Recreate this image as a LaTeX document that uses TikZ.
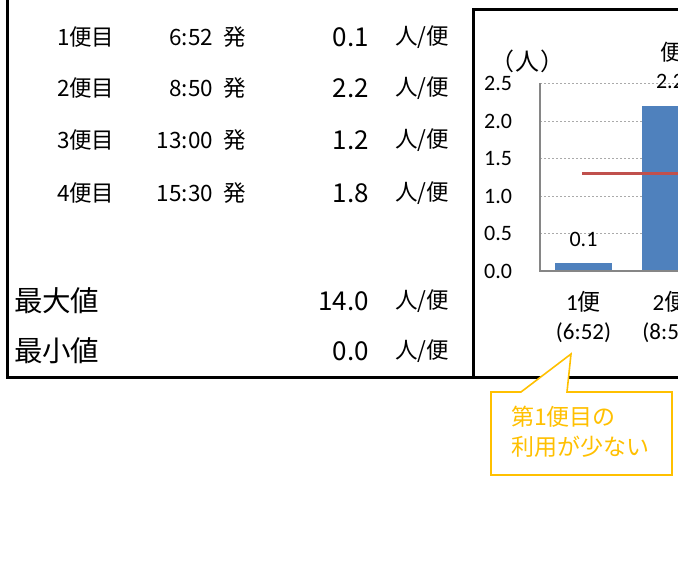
\documentclass[tikz,border=0pt]{standalone}
\usepackage{fontspec}
\newfontfamily\jpfont{Noto Sans CJK JP}
\newfontfamily\jppfont[RawFeature=+palt]{Noto Sans CJK JP}
\newfontfamily\calfont{Carlito}
\definecolor{barblue}{HTML}{4F81BD}
\definecolor{avgred}{HTML}{C0504D}
\definecolor{callout}{HTML}{FFC000}
\definecolor{axisgray}{HTML}{868686}
\tikzset{
  txt/.style={inner sep=0pt, outer sep=0pt},
  small/.style={txt, font=\jpfont\fontsize{22.5}{26}\selectfont},
  val/.style={txt, font=\jpfont\fontsize{26}{30}\selectfont},
  big/.style={txt, font=\jpfont\fontsize{28.5}{32}\selectfont},
  chart/.style={txt, font=\calfont\fontsize{22}{26}\selectfont},
  cat/.style={txt, font=\calfont\fontsize{23}{26}\selectfont},
  frame/.style={line width=3pt, black},
  grid/.style={axisgray!70, line width=0.8pt, dash pattern=on 2pt off 2pt},
  bar/.style={fill=barblue, draw=none},
  note/.style={draw=callout, fill=white, line width=1.6pt, line join=miter},
  notetxt/.style={txt, text=callout, font=\jpfont\fontsize{23}{26}\selectfont, anchor=west},
}
\begin{document}
\begin{tikzpicture}[x=1pt, y=-1pt]
\useasboundingbox (0,0) rectangle (678,585);
\clip (0,0) rectangle (678,585);
% frames
\coordinate (lt) at (7,-2);
\coordinate (lb) at (7,378);
\coordinate (rb) at (682,378);
\coordinate (mt) at (473,10);
\coordinate (mb) at (473,378);
\coordinate (rt) at (682,10);
\draw[frame] (lt) -- (lb) -- (rb);
\draw[frame] (mb) -- (mt) -- (rt);
% table
\foreach \n/\y/\t/\v in {1/37/6:52/0.1, 2/88/8:50/2.2, 3/140/13:00/1.2, 4/193/15:30/1.8}{
  \node[small, anchor=west] (f\n) at (57,\y) {\n 便目};
  \node[small, anchor=east] (t\n) at (213,\y) {\t};
  \node[small, anchor=west] (h\n) at (223,\y) {発};
  \node[val, anchor=east] (v\n) at (369,\y) {\v};
  \node[small, anchor=west] (u\n) at (395,\y) {人/便};
}
\node[big, anchor=west] (maxl) at (14,301) {最大値};
\node[val, anchor=east] (maxv) at (369,301) {14.0};
\node[small, anchor=west] (maxu) at (395,301) {人/便};
\node[big, anchor=west] (minl) at (14,351) {最小値};
\node[val, anchor=east] (minv) at (369,351) {0.0};
\node[small, anchor=west] (minu) at (395,351) {人/便};
% chart
\foreach \i/\y in {1/233.5, 2/196, 3/158.5, 4/121, 5/83.5}{
  \coordinate (ga\i) at (540,\y);
  \coordinate (gb\i) at (700,\y);
  \draw[grid] (ga\i) -- (gb\i);
}
\foreach \i/\v/\y in {0/0.0/271, 1/0.5/233.5, 2/1.0/196, 3/1.5/158.5, 4/2.0/121, 5/2.5/83.5}{
  \node[chart, anchor=east] (tk\i) at (512,\y) {\v};
}
\node[txt, font=\jppfont\fontsize{24}{26}\selectfont, anchor=west] (unit) at (502,61) {（\kern1.5pt 人\kern1.5pt ）};
\fill[bar] (555,271) rectangle (612,263.5);
\fill[bar] (641.5,271) rectangle (698.5,106);
\coordinate (ax0) at (540,83.5);
\coordinate (ax1) at (540,271);
\coordinate (ax2) at (700,271);
\draw[axisgray, line width=2pt] (ax0) -- (ax1) -- (ax2);
\coordinate (avg0) at (582,173.5);
\coordinate (avg1) at (700,173.5);
\draw[avgred, line width=2.5pt] (avg0) -- (avg1);
\node[chart] (bl1) at (583.5,239) {0.1};
\node[chart] (bl2) at (670,81) {2.2};
\node[txt, font=\jpfont\fontsize{22}{24}\selectfont, anchor=west] (ttl) at (660,52) {便};
\node[cat] (c1a) at (583.5,302) {1{\jpfont 便}};
\node[cat] (c1b) at (583.5,333) {(6:52)};
\node[cat] (c2a) at (670,302) {2{\jpfont 便}};
\node[cat] (c2b) at (670,333) {(8:50)};
% callout
\draw[note] (491,392) -- (521,392) -- (571,354) -- (567,392) -- (672,392) -- (672,475) -- (491,475) -- cycle;
\node[notetxt] (n1) at (511,417) {第1便目の};
\node[notetxt] (n2) at (511,447) {利用が少ない};
\end{tikzpicture}
\end{document}
